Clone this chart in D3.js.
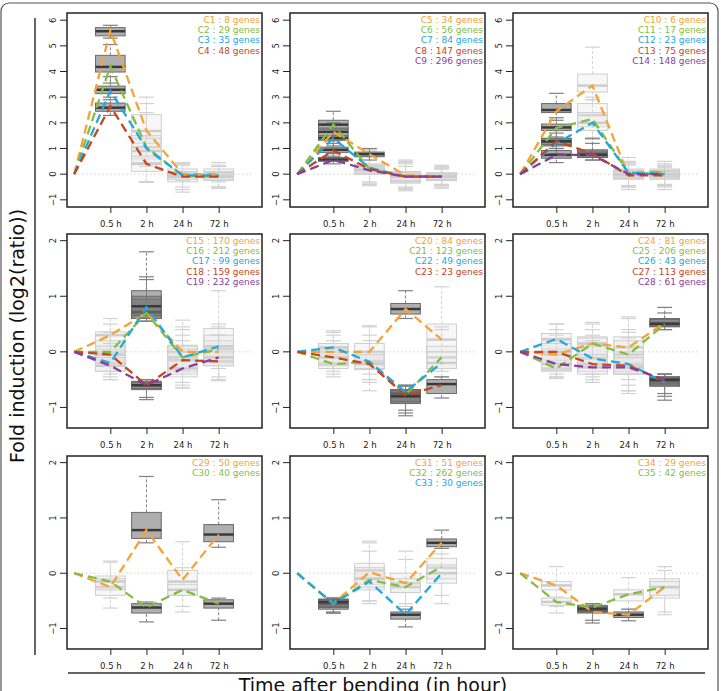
<!DOCTYPE html>
<html>
<head>
<meta charset="utf-8">
<script src="https://cdn.jsdelivr.net/npm/d3@7"></script>
<style>
  body { margin: 0; background: #fff; }
  text { font-family: "DejaVu Sans", sans-serif; }
</style>
</head>
<body>
<div id="vis_container"></div>
<script>
// time points (index 0 is the starting point at value 0)
var timeLabels = ["0.5 h", "2 h", "24 h", "72 h"];

var clusterNames = ["C1","C2","C3","C4","C5","C6","C7","C8","C9","C10","C11","C12","C13","C14",
	"C15","C16","C17","C18","C19","C20","C21","C22","C23","C24","C25","C26","C27","C28",
	"C29","C30","C31","C32","C33","C34","C35"];
var geneCounts = [8,29,35,48,34,56,84,147,296,6,17,23,75,148,
	170,212,99,159,232,84,123,49,23,81,206,43,113,61,
	50,40,51,262,30,29,42];
var panelOf = [0,0,0,0,1,1,1,1,1,2,2,2,2,2,
	3,3,3,3,3,4,4,4,4,5,5,5,5,5,
	6,6,7,7,7,8,8];

// cluster profiles (line values at 0, 0.5h, 2h, 24h, 72h)
var profiles = [
	[0,5.6,1.7,0.0,0.0],[0,4.2,1.05,-0.05,-0.1],[0,3.25,1.0,-0.05,-0.05],[0,2.65,0.4,-0.1,-0.1],
	[0,1.65,0.78,-0.05,-0.1],[0,1.93,0.2,-0.1,-0.1],[0,1.4,0.25,-0.1,-0.1],[0,0.92,0.2,-0.1,-0.1],[0,0.55,0.15,-0.1,-0.1],
	[0,2.45,3.45,-0.05,0.1],[0,1.8,2.15,0.05,0.1],[0,1.2,2.0,0.05,0.0],[0,1.28,0.8,-0.05,-0.05],[0,0.75,0.75,0.0,0.0],
	[0,0.3,0.7,0.0,0.0],[0,0.0,0.7,-0.1,0.05],[0,-0.2,0.8,-0.1,0.1],[0,-0.05,-0.6,-0.15,-0.17],[0,-0.25,-0.6,-0.3,-0.1],
	[0,0.0,0.0,0.77,0.22],[0,-0.22,-0.18,-0.77,-0.1],[0,0.08,-0.18,-0.72,-0.2],[0,-0.1,-0.22,-0.78,-0.6],
	[0,-0.05,0.15,0.08,0.52],[0,-0.3,0.15,-0.05,0.5],[0,0.23,-0.12,-0.22,-0.55],[0,0.0,-0.22,-0.25,-0.52],[0,-0.22,-0.28,-0.28,-0.5],
	[0,-0.25,0.78,-0.12,0.7],[0,-0.15,-0.62,-0.3,-0.55],
	[0,-0.55,0.02,-0.18,0.55],[0,-0.55,-0.12,-0.25,0.12],[0,-0.55,-0.15,-0.75,0.0],
	[0,-0.22,-0.7,-0.75,-0.25],[0,-0.52,-0.62,-0.38,-0.25]
];

// boxplot stats per cluster and time: [low whisker, q1, median, q3, high whisker]
var boxStats = [
	[[5.3,5.39,5.57,5.71,5.8],[0.3,1.2,1.68,2.32,3.0],[-0.25,-0.1,0.0,0.2,0.45],[-0.3,-0.1,0.05,0.2,0.45]],
	[[3.55,3.98,4.18,4.63,5.05],[-0.3,0.6,1.05,1.5,2.75],[-0.5,-0.2,-0.05,0.1,0.4],[-0.5,-0.2,-0.1,0.1,0.35]],
	[[2.9,3.14,3.29,3.43,3.8],[-0.3,0.45,0.9,1.4,2.4],[-0.6,-0.2,-0.05,0.1,0.4],[-0.5,-0.2,-0.05,0.1,0.3]],
	[[2.29,2.45,2.59,2.77,3.0],[-0.32,0.11,0.4,0.7,1.5],[-0.7,-0.3,-0.1,0.05,0.35],[-0.55,-0.25,-0.1,0.05,0.3]],
	[[1.2,1.5,1.65,1.8,2.0],[0.55,0.68,0.78,0.86,1.0],[-0.65,-0.3,-0.1,0.1,0.55],[-0.55,-0.25,-0.1,0.05,0.35]],
	[[1.5,1.75,1.93,2.1,2.45],[-0.45,0.0,0.2,0.4,0.95],[-0.6,-0.3,-0.1,0.05,0.45],[-0.5,-0.2,-0.1,0.0,0.3]],
	[[1.1,1.32,1.4,1.48,1.75],[-0.4,0.05,0.25,0.35,0.9],[-0.55,-0.35,-0.1,0.1,0.5],[-0.45,-0.25,-0.1,0.05,0.25]],
	[[0.7,0.85,0.95,1.05,1.3],[-0.35,0.05,0.2,0.35,0.8],[-0.5,-0.3,-0.1,0.05,0.4],[-0.4,-0.2,-0.1,0.0,0.2]],
	[[0.4,0.5,0.57,0.65,0.8],[-0.3,0.0,0.15,0.3,0.7],[-0.55,-0.25,-0.1,0.0,0.3],[-0.4,-0.2,-0.1,0.0,0.2]],
	[[2.1,2.4,2.5,2.75,3.15],[2.9,3.2,3.45,3.9,4.95],[-0.6,-0.2,0.0,0.2,0.65],[-0.6,-0.2,0.05,0.2,0.5]],
	[[1.45,1.7,1.82,1.95,2.2],[1.4,1.85,2.3,2.75,3.0],[-0.5,-0.15,0.0,0.15,0.5],[-0.5,-0.15,0.0,0.15,0.4]],
	[[0.8,1.1,1.28,1.4,1.7],[1.35,1.7,2.0,2.4,2.9],[-0.45,-0.15,0.0,0.15,0.45],[-0.45,-0.1,0.0,0.15,0.35]],
	[[1.0,1.15,1.28,1.38,1.6],[0.55,0.65,0.8,0.95,1.4],[-0.5,-0.15,-0.05,0.1,0.4],[-0.45,-0.15,-0.05,0.1,0.3]],
	[[0.45,0.62,0.75,0.92,1.0],[0.55,0.65,0.75,0.9,1.2],[-0.45,-0.15,0.0,0.1,0.35],[-0.4,-0.1,0.0,0.1,0.25]],
	[[-0.2,0.1,0.3,0.36,0.6],[0.55,0.6,0.7,1.1,1.8],[-0.35,-0.1,0.0,0.12,0.57],[-0.3,-0.1,0.05,0.42,1.1]],
	[[-0.45,-0.15,0.0,0.2,0.5],[0.55,0.6,0.72,0.95,1.35],[-0.55,-0.3,-0.1,0.1,0.45],[-0.45,-0.2,0.05,0.2,0.5]],
	[[-0.5,-0.35,-0.2,0.05,0.3],[0.55,0.65,0.82,1.0,1.3],[-0.6,-0.35,-0.1,0.05,0.4],[-0.5,-0.15,0.1,0.3,0.45]],
	[[-0.4,-0.2,-0.05,0.1,0.35],[-0.86,-0.68,-0.6,-0.53,-0.5],[-0.65,-0.4,-0.15,0.0,0.3],[-0.5,-0.25,-0.17,0.0,0.3]],
	[[-0.5,-0.35,-0.25,-0.1,0.15],[-0.82,-0.66,-0.6,-0.55,-0.5],[-0.65,-0.45,-0.3,-0.1,0.2],[-0.52,-0.25,-0.1,0.05,0.3]],
	[[-0.3,-0.1,0.0,0.15,0.38],[-0.4,-0.15,0.0,0.15,0.47],[0.6,0.68,0.77,0.87,1.1],[-0.35,0.0,0.22,0.5,1.17]],
	[[-0.45,-0.3,-0.22,-0.05,0.2],[-0.55,-0.3,-0.18,0.0,0.3],[-1.1,-0.93,-0.77,-0.68,-0.6],[-0.45,-0.3,-0.1,0.1,0.45]],
	[[-0.35,-0.2,0.08,0.15,0.35],[-0.7,-0.32,-0.18,0.0,0.45],[-1.15,-0.9,-0.75,-0.68,-0.6],[-0.45,-0.3,-0.2,0.0,0.4]],
	[[-0.4,-0.25,-0.1,0.05,0.3],[-0.5,-0.3,-0.22,-0.05,0.2],[-1.05,-0.9,-0.8,-0.7,-0.62],[-0.83,-0.75,-0.58,-0.5,-0.45]],
	[[-0.45,-0.2,-0.05,0.2,0.5],[-0.4,-0.1,0.15,0.27,0.53],[-0.5,-0.2,0.08,0.27,0.63],[0.4,0.45,0.52,0.6,0.8]],
	[[-0.48,-0.35,-0.3,-0.05,0.3],[-0.55,-0.2,0.15,0.25,0.5],[-0.75,-0.4,-0.05,0.2,0.6],[0.4,0.46,0.5,0.58,0.7]],
	[[-0.3,0.05,0.23,0.33,0.5],[-0.45,-0.25,-0.12,0.1,0.4],[-0.6,-0.35,-0.22,0.0,0.4],[-0.87,-0.62,-0.55,-0.45,-0.4]],
	[[-0.4,-0.15,0.0,0.15,0.4],[-0.5,-0.35,-0.22,-0.05,0.3],[-0.7,-0.4,-0.25,-0.05,0.35],[-0.8,-0.6,-0.52,-0.46,-0.4]],
	[[-0.45,-0.33,-0.22,-0.05,0.2],[-0.55,-0.4,-0.28,-0.1,0.2],[-0.7,-0.4,-0.28,-0.1,0.25],[-0.75,-0.58,-0.5,-0.45,-0.4]],
	[[-0.63,-0.4,-0.25,-0.05,0.22],[0.55,0.63,0.78,1.1,1.75],[-0.7,-0.4,-0.15,0.05,0.57],[0.47,0.57,0.7,0.88,1.33]],
	[[-0.45,-0.3,-0.15,-0.1,0.2],[-0.88,-0.72,-0.62,-0.55,-0.52],[-0.6,-0.4,-0.3,-0.2,0.1],[-0.85,-0.63,-0.55,-0.48,-0.45]],
	[[-0.72,-0.65,-0.55,-0.47,-0.45],[-0.55,-0.2,0.05,0.18,0.58],[-0.6,-0.35,-0.18,0.0,0.4],[0.45,0.48,0.55,0.62,0.78]],
	[[-0.7,-0.62,-0.55,-0.47,-0.45],[-0.5,-0.3,-0.1,0.1,0.55],[-0.55,-0.35,-0.25,-0.1,0.25],[-0.55,-0.18,0.1,0.27,0.55]],
	[[-0.72,-0.6,-0.52,-0.48,-0.45],[-0.5,-0.25,-0.1,0.05,0.4],[-0.97,-0.83,-0.75,-0.7,-0.65],[-0.4,-0.1,0.0,0.15,0.35]],
	[[-0.6,-0.3,-0.22,-0.15,0.12],[-0.9,-0.72,-0.68,-0.6,-0.55],[-0.86,-0.8,-0.75,-0.7,-0.65],[-0.75,-0.45,-0.25,-0.1,0.12]],
	[[-0.72,-0.58,-0.52,-0.45,-0.43],[-0.85,-0.7,-0.64,-0.58,-0.55],[-0.65,-0.5,-0.38,-0.3,-0.08],[-0.7,-0.4,-0.25,-0.15,0.05]]
];

// which boxes are drawn dark (significant), one char per time point
var darkFlags = ["1000","1000","1000","1000","1100","1000","1000","1000","1000",
	"1000","1000","1000","1100","1100",
	"0100","0100","0100","0100","0100","0010","0010","0010","0011",
	"0001","0001","0001","0001","0001","0101","0101",
	"1001","1000","1010","0110","0100"];

var lineColors = ["#f6a235","#84bd3f","#21a8df","#c6461d","#8a3d9d"];
var yTicksTop = [-1,0,1,2,3,4,5,6];
var yTicksLow = [-1,0,1,2];

var fig = {};
fig.width = 721;
fig.height = 691;
fig.panelLeft = [67, 290, 513];
fig.panelTop = [13, 234, 456];
fig.panelW = 195;
fig.panelH = 194;

fig.svg = d3.select("#vis_container").append("svg")
	.attr("width", fig.width)
	.attr("height", fig.height);

// outer frame and decorations
fig.svg.append("rect")
	.attr("x", 1).attr("y", 3).attr("width", 717).attr("height", 740)
	.attr("rx", 8)
	.attr("fill", "none").attr("stroke", "#555").attr("stroke-width", 1.2);
fig.svg.append("line")
	.attr("x1", 35).attr("x2", 35).attr("y1", 18).attr("y2", 655)
	.attr("stroke", "#333").attr("stroke-width", 1.5);
fig.svg.append("line")
	.attr("x1", 68).attr("x2", 705).attr("y1", 673).attr("y2", 673)
	.attr("stroke", "#333").attr("stroke-width", 1.5);

fig.svg.append("text")
	.attr("transform", "translate(24,336) rotate(-90)")
	.attr("text-anchor", "middle")
	.attr("font-size", 19)
	.attr("fill", "#111")
	.text("Fold induction (log2(ratio))");
fig.svg.append("text")
	.attr("x", 373).attr("y", 692)
	.attr("text-anchor", "middle")
	.attr("font-size", 19)
	.attr("fill", "#111")
	.text("Time after bending (in hour)");

function drawPanel(p) {
	var row = Math.floor(p / 3), col = p % 3;
	var pLeft = fig.panelLeft[col], pTop = fig.panelTop[row];
	var pH = row == 2 ? fig.panelH - 1 : fig.panelH;
	var pW = fig.panelW;

	var x = d3.scaleLinear().domain([-0.2, 5.2]).range([pLeft, pLeft + pW]);
	var y = d3.scaleLinear()
		.domain(row == 0 ? [-1.28, 6.28] : [-1.37, 2.12])
		.range([pTop + pH, pTop]);
	var ticks = row == 0 ? yTicksTop : yTicksLow;

	var g = fig.svg.append("g");

	// y axis, labels rotated like R
	var yAxis = g.append("g")
		.attr("transform", "translate(" + pLeft + ",0)")
		.call(d3.axisLeft(y).tickValues(ticks).tickSize(7).tickFormat(d3.format("d")));
	yAxis.select(".domain").remove();
	yAxis.selectAll("line").attr("stroke", "#222");
	yAxis.selectAll(".tick").attr("transform", null);
	yAxis.selectAll(".tick line")
		.attr("y1", function(d) { return y(d); })
		.attr("y2", function(d) { return y(d); });
	yAxis.selectAll(".tick text")
		.attr("font-size", 8.5).attr("fill", "#222")
		.attr("font-family", "DejaVu Sans")
		.attr("x", null)
		.attr("text-anchor", "middle")
		.attr("transform", function(d) { return "translate(-14," + y(d) + ") rotate(-90)"; })
		.attr("dy", "0.35em");

	// x axis
	var xAxis = g.append("g")
		.attr("transform", "translate(0," + (pTop + pH) + ")")
		.call(d3.axisBottom(x).tickValues([1,2,3,4]).tickSize(6).tickPadding(8)
			.tickFormat(function(d) { return timeLabels[d - 1]; }));
	xAxis.select(".domain").remove();
	xAxis.selectAll("line").attr("stroke", "#222");
	xAxis.selectAll("text").attr("font-size", 8.5).attr("fill", "#222").attr("font-family", "DejaVu Sans");

	// zero line
	g.append("line")
		.attr("x1", x(0)).attr("x2", x(4.9))
		.attr("y1", y(0)).attr("y2", y(0))
		.attr("stroke", "#bbb").attr("stroke-width", 1)
		.attr("stroke-dasharray", "1,3");

	// clusters of this panel
	var members = [];
	for (var c = 0; c < clusterNames.length; c++) if (panelOf[c] == p) members.push(c);

	// boxes: light first, dark on top
	var boxW = x(0.82) - x(0);
	[false, true].forEach(function(drawDark) {
		members.forEach(function(c) {
			boxStats[c].forEach(function(s, t) {
				var isDark = darkFlags[c][t] == "1";
				if (isDark != drawDark) return;
				var cx = x(t + 1);
				var wc = isDark ? "#808080" : "#d2d2d2";
				g.append("line")
					.attr("x1", cx).attr("x2", cx).attr("y1", y(s[0])).attr("y2", y(s[1]))
					.attr("stroke", wc).attr("stroke-dasharray", "3,2");
				g.append("line")
					.attr("x1", cx).attr("x2", cx).attr("y1", y(s[3])).attr("y2", y(s[4]))
					.attr("stroke", wc).attr("stroke-dasharray", "3,2");
				[s[0], s[4]].forEach(function(v) {
					g.append("line")
						.attr("x1", cx - boxW / 4).attr("x2", cx + boxW / 4)
						.attr("y1", y(v)).attr("y2", y(v))
						.attr("stroke", wc).attr("stroke-width", 1.2);
				});
				g.append("rect")
					.attr("x", cx - boxW / 2).attr("width", boxW)
					.attr("y", y(s[3])).attr("height", y(s[1]) - y(s[3]))
					.attr("fill", isDark ? "#7a7a7a" : "#e4e4e4")
					.attr("fill-opacity", isDark ? 0.6 : 0.3)
					.attr("stroke", isDark ? "#6a6a6a" : "#cfcfcf")
					.attr("stroke-width", 1);
				g.append("line")
					.attr("x1", cx - boxW / 2).attr("x2", cx + boxW / 2)
					.attr("y1", y(s[2])).attr("y2", y(s[2]))
					.attr("stroke", isDark ? "#3a3a3a" : "#cdcdcd")
					.attr("stroke-width", 2.5);
			});
		});
	});

	// profile lines
	var line = d3.line()
		.x(function(d, i) { return x(i); })
		.y(function(d) { return y(d); });
	members.forEach(function(c, k) {
		g.append("path")
			.attr("d", line(profiles[c]))
			.attr("fill", "none")
			.attr("stroke", lineColors[k])
			.attr("stroke-width", 2.3)
			.attr("stroke-dasharray", "9,5");
	});

	// legend
	members.forEach(function(c, k) {
		g.append("text")
			.attr("x", pLeft + pW - 2)
			.attr("y", pTop + 9.5 + k * 10.4)
			.attr("text-anchor", "end")
			.attr("font-size", 9)
			.attr("fill", lineColors[k])
			.text(clusterNames[c] + " : " + geneCounts[c] + " genes");
	});

	// plot box
	g.append("rect")
		.attr("x", pLeft).attr("y", pTop).attr("width", pW).attr("height", pH)
		.attr("fill", "none").attr("stroke", "#222").attr("stroke-width", 1.5);
}

for (var p = 0; p < 9; p++) drawPanel(p);
</script>
</body>
</html>
